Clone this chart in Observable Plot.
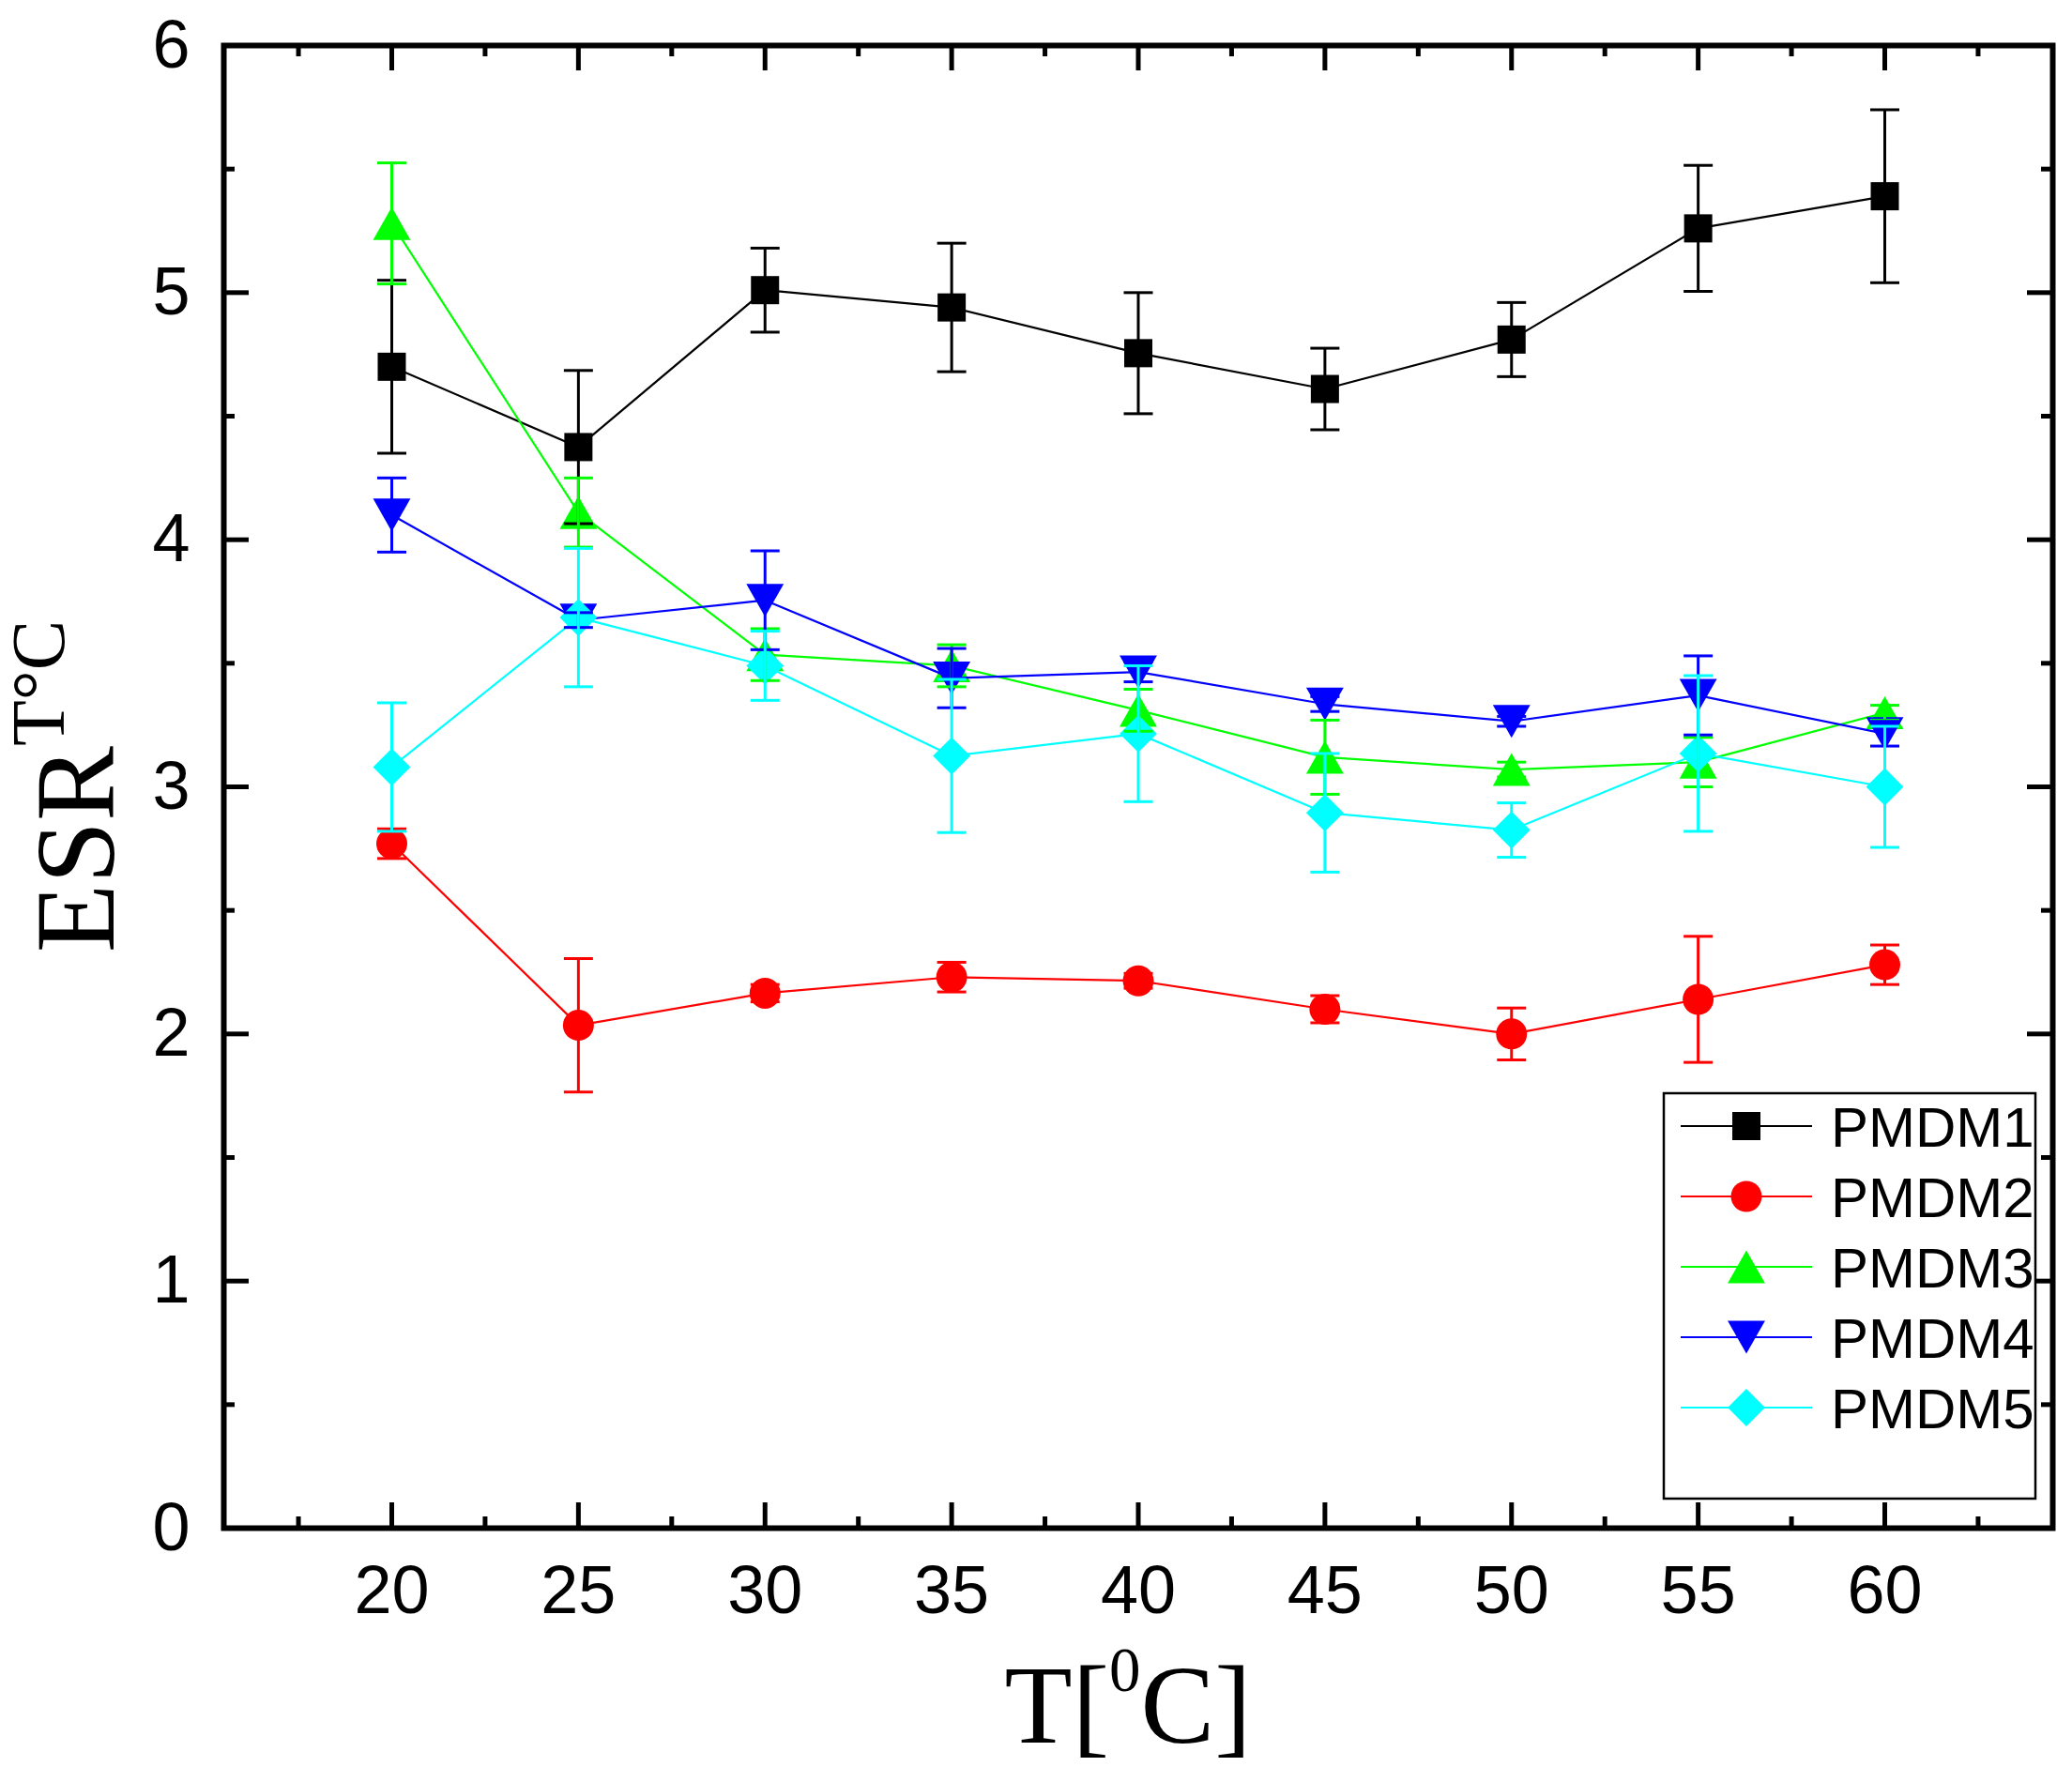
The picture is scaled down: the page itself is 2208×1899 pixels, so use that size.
<!DOCTYPE html>
<html>
<head>
<meta charset="utf-8">
<script src="https://cdn.jsdelivr.net/npm/d3@7"></script>
<script src="https://cdn.jsdelivr.net/npm/@observablehq/plot@0.6"></script>
<style>
  body { margin: 0; background: #fff; }
</style>
</head>
<body>
<div id="chart"></div>
<script>
// temperatures (x) and the five series
const temps = [20, 25, 30, 35, 40, 45, 50, 55, 60];
const seriesNames = ["PMDM1", "PMDM2", "PMDM3", "PMDM4", "PMDM5"];
const colors = ["#000000", "#ff0000", "#00ff00", "#0000ff", "#00ffff"];

const pmdm1 = [4.70, 4.375, 5.01, 4.94, 4.755, 4.61, 4.81, 5.26, 5.39];
const err1  = [0.35, 0.31, 0.17, 0.26, 0.245, 0.165, 0.15, 0.255, 0.35];
const pmdm2 = [2.77, 2.035, 2.165, 2.23, 2.215, 2.10, 2.00, 2.14, 2.28];
const err2  = [0.06, 0.27, 0.035, 0.06, 0.03, 0.055, 0.105, 0.255, 0.08];
const pmdm3 = [5.28, 4.11, 3.535, 3.49, 3.31, 3.12, 3.07, 3.10, 3.30];
const err3  = [0.245, 0.14, 0.105, 0.085, 0.085, 0.15, 0.03, 0.10, 0.03];
const pmdm4 = [4.10, 3.675, 3.755, 3.44, 3.465, 3.335, 3.265, 3.37, 3.215];
const err4  = [0.15, 0.03, 0.20, 0.12, 0.04, 0.03, 0.02, 0.16, 0.05];
const pmdm5 = [3.08, 3.685, 3.49, 3.125, 3.215, 2.895, 2.825, 3.135, 3.00];
const err5  = [0.26, 0.28, 0.14, 0.31, 0.275, 0.24, 0.11, 0.315, 0.245];

const xMajor = [20, 25, 30, 35, 40, 45, 50, 55, 60];
const xMinor = [17.5, 22.5, 27.5, 32.5, 37.5, 42.5, 47.5, 52.5, 57.5, 62.5];
const yMajor = [0, 1, 2, 3, 4, 5, 6];
const yMinor = [0.5, 1.5, 2.5, 3.5, 4.5, 5.5];

const values = [pmdm1, pmdm2, pmdm3, pmdm4, pmdm5];
const errors = [err1, err2, err3, err4, err5];

// Origin-like marker shapes, scaled from the dot radius
const poly = pts => ({
  draw(ctx, size) {
    const r = Math.sqrt(size / Math.PI);
    ctx.moveTo(pts[0][0] * r, pts[0][1] * r);
    for (const p of pts.slice(1)) ctx.lineTo(p[0] * r, p[1] * r);
    ctx.closePath();
  }
});
const roundDot = {
  draw(ctx, size) {
    const r = Math.sqrt(size / Math.PI) * 1.1;
    ctx.moveTo(r, 0);
    ctx.arc(0, 0, r, 0, 2 * Math.PI);
  }
};
const symbols = [
  poly([[-1, -1], [1, -1], [1, 1], [-1, 1]]),
  roundDot,
  poly([[0, -1.17], [1.33, 1.17], [-1.33, 1.17]]),
  poly([[-1.33, -1.17], [1.33, -1.17], [0, 1.17]]),
  poly([[0, -1.33], [1.33, 0], [0, 1.33], [-1.33, 0]])
];
const capSymbol = {
  draw(ctx) { ctx.moveTo(-15.5, 0); ctx.lineTo(15.5, 0); }
};

const series = seriesNames.map((name, i) =>
  temps.map((t, j) => ({name, t, v: values[i][j], e: errors[i][j]}))
);

const W = 2208, H = 1899;
const mL = 238, mR = 21, mT = 48, mB = 271;
const innerW = W - mL - mR, innerH = H - mT - mB;
const R = 15;

const marks = [];
series.forEach((rows, i) => {
  marks.push(Plot.line(rows, {x: "t", y: "v", stroke: colors[i], strokeWidth: 2.2}));
  marks.push(Plot.dot(rows, {x: "t", y: "v", r: R, symbol: symbols[i], fill: colors[i], stroke: "none"}));
});
series.forEach((rows, i) => {
  marks.push(Plot.ruleX(rows, {x: "t", y1: d => d.v - d.e, y2: d => d.v + d.e, stroke: colors[i], strokeWidth: 3}));
  marks.push(Plot.dot(rows, {x: "t", y: d => d.v + d.e, symbol: capSymbol, r: R, fill: "none", stroke: colors[i], strokeWidth: 3}));
  marks.push(Plot.dot(rows, {x: "t", y: d => d.v - d.e, symbol: capSymbol, r: R, fill: "none", stroke: colors[i], strokeWidth: 3}));
});

// inward ticks on all four sides
const tk = {stroke: "#000", strokeWidth: 5};
marks.push(
  Plot.tickX(xMajor, {x: d => d, insetTop: innerH - 27, ...tk}),
  Plot.tickX(xMajor, {x: d => d, insetBottom: innerH - 27, ...tk}),
  Plot.tickX(xMinor, {x: d => d, insetTop: innerH - 12, ...tk}),
  Plot.tickX(xMinor, {x: d => d, insetBottom: innerH - 12, ...tk}),
  Plot.tickY(yMajor, {y: d => d, insetRight: innerW - 27, ...tk}),
  Plot.tickY(yMajor, {y: d => d, insetLeft: innerW - 27, ...tk}),
  Plot.tickY(yMinor, {y: d => d, insetRight: innerW - 12, ...tk}),
  Plot.tickY(yMinor, {y: d => d, insetLeft: innerW - 12, ...tk}),
  Plot.axisX({ticks: xMajor, tickSize: 0, tickPadding: 39, label: null, fontSize: 72, tickFormat: d => String(d)}),
  Plot.axisY({ticks: yMajor, tickSize: 0, tickPadding: 36, label: null, fontSize: 72, tickFormat: d => String(d)}),
  Plot.frame({stroke: "#000", strokeWidth: 6})
);

const svg = Plot.plot({
  width: W,
  height: H,
  marginLeft: mL,
  marginRight: mR,
  marginTop: mT,
  marginBottom: mB,
  x: {domain: [15.5, 64.5]},
  y: {domain: [0, 6]},
  style: {fontFamily: "Liberation Sans, Arial, sans-serif", fontSize: "72px", background: "#fff", color: "#000", overflow: "visible"},
  marks
});

const s = d3.select(svg);

// axis titles with superscripts
const yt = s.append("text")
  .attr("transform", "translate(121,838) rotate(-90)")
  .attr("text-anchor", "middle")
  .attr("font-family", "Liberation Serif, Times New Roman, serif")
  .attr("fill", "#000");
yt.append("tspan").attr("font-size", 120).text("ESR");
yt.append("tspan").attr("font-size", 80).attr("dy", -53).text("T°C");

const xt = s.append("text")
  .attr("x", 1202).attr("y", 1857)
  .attr("text-anchor", "middle")
  .attr("font-family", "Liberation Serif, Times New Roman, serif")
  .attr("fill", "#000");
xt.append("tspan").attr("font-size", 118).text("T[");
xt.append("tspan").attr("font-size", 67).attr("dy", -55).text("0");
xt.append("tspan").attr("font-size", 118).attr("dy", 55).text("C]");

// legend box inside the frame
const lg = s.append("g");
lg.append("rect")
  .attr("x", 1773).attr("y", 1165).attr("width", 396).attr("height", 432)
  .attr("fill", "#fff").attr("stroke", "#000").attr("stroke-width", 2.5);
seriesNames.forEach((name, i) => {
  const cy = 1200 + i * 75;
  lg.append("line")
    .attr("x1", 1791).attr("x2", 1931).attr("y1", cy).attr("y2", cy)
    .attr("stroke", colors[i]).attr("stroke-width", 2.2);
  lg.append("path")
    .attr("transform", `translate(1861,${cy})`)
    .attr("d", d3.symbol(symbols[i], Math.PI * R * R)())
    .attr("fill", colors[i]);
  lg.append("text")
    .attr("x", 1951).attr("y", cy + 22)
    .attr("text-anchor", "start")
    .attr("font-size", 60)
    .attr("fill", "#000")
    .text(name);
});

d3.select("#chart").append(() => svg);
</script>
</body>
</html>
